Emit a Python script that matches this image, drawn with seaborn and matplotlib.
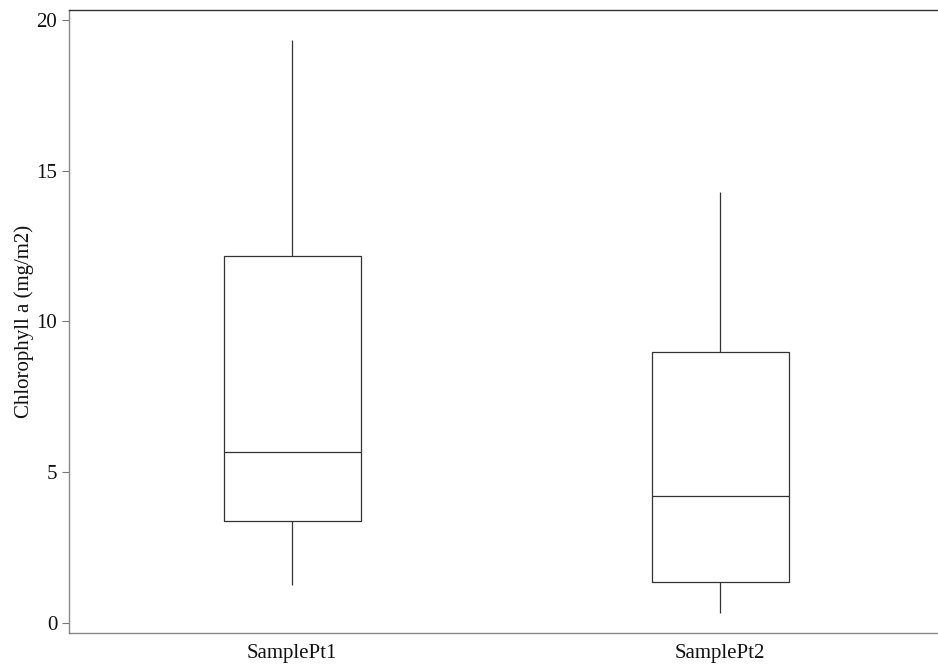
import numpy as np
import pandas as pd
import matplotlib
matplotlib.use("Agg")
import matplotlib.pyplot as plt
import seaborn as sns

# five summary values per site: min, q1, median, q3, max
sites = ["SamplePt1", "SamplePt2"]
pt1_values = [1.26, 3.38, 5.67, 12.17, 19.34]
pt2_values = [0.33, 1.36, 4.21, 8.99, 14.30]
y_ticks = [0, 5, 10, 15, 20]

df = pd.DataFrame({
    "site": [sites[0]] * len(pt1_values) + [sites[1]] * len(pt2_values),
    "chla": pt1_values + pt2_values,
})

sns.set_style("white")
plt.rcParams["font.family"] = ["Liberation Serif", "DejaVu Serif"]

fig = plt.figure(figsize=(9.38, 6.66), dpi=100)
ax = fig.add_axes([69 / 938, 33 / 666, 869 / 938, 623 / 666])

sns.boxplot(data=df, x="site", y="chla", order=sites, ax=ax,
            fill=False, color="#333333", linecolor="#333333",
            width=0.32, showcaps=False, linewidth=0.9,
            whis=1.5, showfliers=False)

ax.set_xlim(-0.521, 1.509)
ax.set_ylim(-0.33, 20.33)
ax.set_yticks(y_ticks)
ax.set_xlabel("")
ax.set_ylabel("Chlorophyll a (mg/m2)", fontsize=15, color="#111111", labelpad=2)
ax.tick_params(axis="y", length=5, width=0.8, color="#777777",
               labelsize=15, labelcolor="#111111", left=True, direction="out")
ax.tick_params(axis="x", length=0, labelsize=15, labelcolor="#111111", pad=8)

for side in ["left", "bottom"]:
    ax.spines[side].set_color("#888888")
    ax.spines[side].set_linewidth(1.0)
ax.spines["top"].set_color("#333333")
ax.spines["top"].set_linewidth(1.0)
ax.spines["right"].set_visible(False)

fig.savefig("out.png", dpi=100, facecolor="white")
